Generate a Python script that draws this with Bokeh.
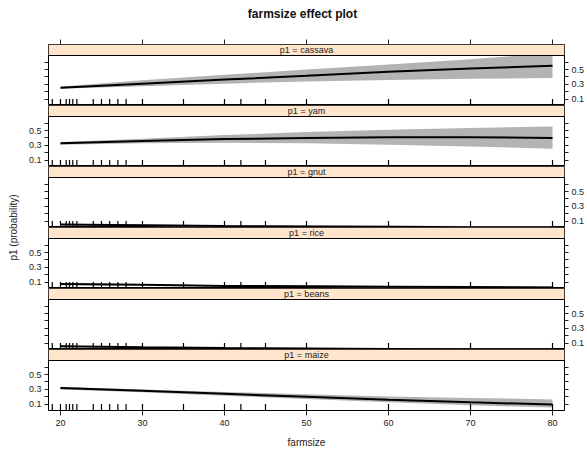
import numpy as np
from bokeh.plotting import figure
from bokeh.models import (Range1d, FixedTicker, LinearAxis, BoxAnnotation, Span,
                          Label, ColumnDataSource, CustomJSTickFormatter)
from bokeh.layouts import column, row
from bokeh.embed import file_html
from bokeh.resources import INLINE
from bokeh.core.properties import value

# ---------------- data ----------------
farmsize = [20, 30, 40, 50, 60, 70, 80]
crops = ["cassava", "yam", "gnut", "rice", "beans", "maize"]

cassava_fit = [0.255, 0.31, 0.365, 0.415, 0.47, 0.515, 0.55]
cassava_lower = [0.24, 0.275, 0.31, 0.34, 0.36, 0.375, 0.385]
cassava_upper = [0.27, 0.355, 0.43, 0.50, 0.57, 0.64, 0.72]

yam_fit = [0.33, 0.36, 0.385, 0.40, 0.41, 0.41, 0.40]
yam_lower = [0.31, 0.33, 0.335, 0.33, 0.31, 0.285, 0.255]
yam_upper = [0.345, 0.39, 0.44, 0.48, 0.51, 0.535, 0.555]

gnut_fit = [0.055, 0.045, 0.035, 0.03, 0.025, 0.02, 0.017]
gnut_lower = [0.045, 0.035, 0.025, 0.018, 0.012, 0.008, 0.005]
gnut_upper = [0.065, 0.055, 0.045, 0.042, 0.038, 0.036, 0.035]

rice_fit = [0.075, 0.065, 0.05, 0.045, 0.04, 0.035, 0.03]
rice_lower = [0.06, 0.055, 0.045, 0.035, 0.03, 0.025, 0.02]
rice_upper = [0.09, 0.075, 0.06, 0.055, 0.05, 0.05, 0.045]

beans_fit = [0.06, 0.045, 0.035, 0.028, 0.022, 0.018, 0.015]
beans_lower = [0.05, 0.037, 0.027, 0.02, 0.014, 0.01, 0.007]
beans_upper = [0.07, 0.053, 0.043, 0.036, 0.03, 0.027, 0.025]

maize_fit = [0.32, 0.28, 0.24, 0.20, 0.16, 0.125, 0.095]
maize_lower = [0.30, 0.26, 0.215, 0.17, 0.125, 0.085, 0.055]
maize_upper = [0.335, 0.30, 0.265, 0.235, 0.205, 0.185, 0.165]

rug_values = [19.0, 20.0, 20.7, 21.1, 21.5, 22.0, 24.0, 25.0, 26.0, 27.0, 28.0, 30.0,
              35.0, 40.0, 42.0, 45.0, 50.0, 60.0, 70.0, 80.0]

x_ticks = [20, 30, 40, 50, 60, 70, 80]
y_major_ticks = [0.1, 0.3, 0.5]
y_minor_ticks = [0.2, 0.4, 0.6]

series = {
    "cassava": (cassava_fit, cassava_lower, cassava_upper),
    "yam": (yam_fit, yam_lower, yam_upper),
    "gnut": (gnut_fit, gnut_lower, gnut_upper),
    "rice": (rice_fit, rice_lower, rice_upper),
    "beans": (beans_fit, beans_lower, beans_upper),
    "maize": (maize_fit, maize_lower, maize_upper),
}

# ---------------- style / geometry ----------------
FONT = "Liberation Sans"
X0, X1 = 18.54, 81.46
Y0, Y1 = 0.015, 0.69
PX_PER_UNIT = 50 / (Y1 - Y0)
YS = Y1 + 11 / PX_PER_UNIT
STRIP_COLOR = "#ffe5cc"
BAND_COLOR = "#b3b3b3"
TEXT_COLOR = "#222222"
TICK_COLOR = "#222222"


def y_axis(labeled):
    ax = LinearAxis(ticker=FixedTicker(ticks=y_major_ticks, minor_ticks=y_minor_ticks))
    ax.axis_line_color = None
    ax.major_tick_in = 0
    ax.major_tick_out = 4
    ax.minor_tick_in = 0
    ax.minor_tick_out = 4
    ax.major_tick_line_color = TICK_COLOR
    ax.minor_tick_line_color = TICK_COLOR
    ax.major_label_text_font = FONT
    ax.major_label_text_font_size = "9px"
    ax.major_label_text_color = TEXT_COLOR
    ax.major_label_standoff = 3
    ax.major_label_orientation = "horizontal"
    if not labeled:
        ax.formatter = CustomJSTickFormatter(code="return ''")
        ax.major_label_standoff = 0
    return ax


def x_axis(labeled):
    ax = LinearAxis(ticker=FixedTicker(ticks=x_ticks, minor_ticks=[]))
    ax.axis_line_color = None
    ax.major_tick_in = 0
    ax.major_tick_out = 5
    ax.minor_tick_line_color = None
    ax.major_tick_line_color = TICK_COLOR
    ax.major_label_text_font = FONT
    ax.major_label_text_font_size = "9px"
    ax.major_label_text_color = TEXT_COLOR
    ax.major_label_standoff = 4
    if labeled:
        ax.axis_label = "farmsize"
        ax.axis_label_text_font = FONT
        ax.axis_label_text_font_size = "10px"
        ax.axis_label_text_font_style = "normal"
        ax.axis_label_text_color = TEXT_COLOR
        ax.axis_label_standoff = 8
    else:
        ax.formatter = CustomJSTickFormatter(code="return ''")
        ax.major_label_standoff = 0
        ax.major_label_text_font_size = "1px"
    return ax


panels = []
for i, crop in enumerate(crops):
    top = i == 0
    bottom = i == len(crops) - 1
    h = 61 + (11 if top else 0) + (41 if bottom else 0)
    p = figure(width=565, height=h, x_range=Range1d(X0, X1), y_range=Range1d(Y0, YS),
               output_backend="svg", toolbar_location=None,
               x_axis_location=None, y_axis_location=None,
               min_border_left=26, min_border_right=22,
               min_border_top=11 if top else 0, min_border_bottom=41 if bottom else 0)
    p.xgrid.visible = False
    p.ygrid.visible = False
    p.outline_line_color = "black"
    p.outline_line_width = 1
    p.background_fill_color = "white"
    p.border_fill_color = "white"

    fit, lo, hi = series[crop]
    src = ColumnDataSource(dict(x=farmsize, fit=fit, lo=lo, hi=hi))
    p.varea(x="x", y1="lo", y2="hi", source=src, fill_color=BAND_COLOR, fill_alpha=1)
    p.line(x="x", y="fit", source=src, line_color="black", line_width=2)

    rug = ColumnDataSource(dict(x=rug_values, y=[Y0] * len(rug_values)))
    p.scatter(x="x", y="y", source=rug, marker="dash", angle=np.pi / 2, size=13,
              line_color="black", line_width=1.2)

    p.add_layout(BoxAnnotation(bottom=Y1, fill_color=STRIP_COLOR, fill_alpha=1,
                               line_color=None))
    p.add_layout(Span(location=Y1, dimension="width", line_color="black", line_width=1))
    p.add_layout(Label(x=(X0 + X1) / 2, y=(Y1 + YS) / 2, text=f"p1 = {crop}",
                       text_align="center", text_baseline="middle",
                       text_font=FONT, text_font_size="9px", text_color=TEXT_COLOR))

    labeled_left = (i % 2 == 1)
    p.add_layout(y_axis(labeled_left), "left")
    p.add_layout(y_axis(not labeled_left), "right")
    if top:
        p.add_layout(x_axis(False), "above")
    if bottom:
        p.add_layout(x_axis(True), "below")
    panels.append(p)

# title strip
title_fig = figure(width=587, height=33, x_range=Range1d(0, 587), y_range=Range1d(0, 33),
                   output_backend="svg", toolbar_location=None,
                   x_axis_type=None, y_axis_type=None, min_border=0)
title_fig.xgrid.visible = False
title_fig.ygrid.visible = False
title_fig.outline_line_color = None
title_fig.text(x=[302], y=[20], text=["farmsize effect plot"],
               text_align="center", text_baseline="middle",
               text_font=value(FONT), text_font_size="12px", text_font_style="bold",
               text_color="#111111")

# y-axis label column
lab = figure(width=22, height=418, x_range=Range1d(0, 22), y_range=Range1d(0, 1),
             output_backend="svg", toolbar_location=None,
             x_axis_type=None, y_axis_type=None,
             min_border_left=0, min_border_right=0, min_border_top=11, min_border_bottom=41)
lab.xgrid.visible = False
lab.ygrid.visible = False
lab.outline_line_color = None
lab.text(x=[13], y=[0.5], text=["p1 (probability)"], angle=np.pi / 2,
         text_align="center", text_baseline="middle",
         text_font=value(FONT), text_font_size="10px", text_color=TEXT_COLOR)

layout = column(title_fig, row(lab, column(*panels, spacing=0), spacing=0), spacing=0)

with open("out.html", "w") as f:
    f.write(file_html(layout, INLINE))
